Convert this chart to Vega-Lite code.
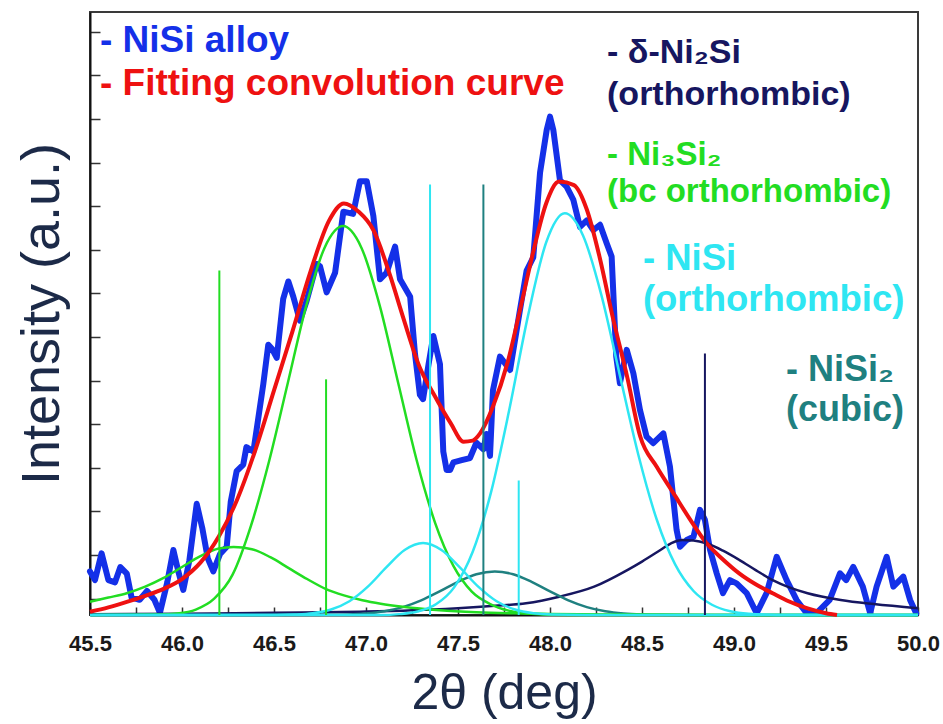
{
  "$schema": "https://vega.github.io/schema/vega-lite/v6.json",
  "autosize": "none",
  "width": 828,
  "height": 603,
  "padding": {"left": 90, "top": 12, "right": 25, "bottom": 109},
  "background": "white",
  "config": {
    "view": {"stroke": "#3a3a3a", "strokeWidth": 2},
    "axis": {"grid": false}
  },
  "datasets": {
    "blue": [
      {"x":45.5,"y":2.0},{"x":45.527,"y":1.6},{"x":45.563,"y":2.83},{"x":45.6,"y":1.6},{"x":45.636,"y":1.5},{"x":45.665,"y":2.2},{"x":45.7,"y":1.9},{"x":45.726,"y":0.8},{"x":45.77,"y":0.7},{"x":45.81,"y":1.1},{"x":45.85,"y":0.7},{"x":45.88,"y":0.1},{"x":45.92,"y":1.5},{"x":45.953,"y":2.98},{"x":45.98,"y":2.0},{"x":46.007,"y":1.15},{"x":46.04,"y":2.5},{"x":46.08,"y":5.1},{"x":46.11,"y":4.0},{"x":46.14,"y":2.6},{"x":46.17,"y":2.0},{"x":46.207,"y":2.8},{"x":46.243,"y":3.13},{"x":46.265,"y":5.2},{"x":46.297,"y":6.6},{"x":46.333,"y":6.9},{"x":46.35,"y":7.7},{"x":46.388,"y":7.5},{"x":46.442,"y":10.6},{"x":46.469,"y":12.4},{"x":46.49,"y":12.2},{"x":46.515,"y":11.8},{"x":46.55,"y":14.5},{"x":46.578,"y":15.3},{"x":46.605,"y":14.6},{"x":46.641,"y":13.5},{"x":46.677,"y":14.4},{"x":46.732,"y":16.1},{"x":46.75,"y":16.0},{"x":46.786,"y":14.8},{"x":46.832,"y":15.7},{"x":46.877,"y":18.5},{"x":46.93,"y":18.4},{"x":46.967,"y":19.9},{"x":47.004,"y":19.9},{"x":47.04,"y":18.3},{"x":47.076,"y":15.4},{"x":47.112,"y":15.7},{"x":47.158,"y":16.9},{"x":47.185,"y":15.4},{"x":47.24,"y":14.6},{"x":47.266,"y":12.0},{"x":47.293,"y":10.1},{"x":47.31,"y":9.9},{"x":47.34,"y":11.5},{"x":47.366,"y":12.8},{"x":47.402,"y":11.5},{"x":47.42,"y":7.5},{"x":47.438,"y":6.65},{"x":47.457,"y":6.65},{"x":47.475,"y":7.0},{"x":47.52,"y":7.1},{"x":47.565,"y":7.2},{"x":47.6,"y":7.9},{"x":47.638,"y":7.6},{"x":47.655,"y":8.3},{"x":47.674,"y":7.3},{"x":47.69,"y":10.3},{"x":47.728,"y":11.85},{"x":47.76,"y":11.5},{"x":47.783,"y":11.24},{"x":47.837,"y":14.0},{"x":47.873,"y":15.8},{"x":47.909,"y":16.4},{"x":47.946,"y":20.3},{"x":47.982,"y":22.25},{"x":48.0,"y":22.86},{"x":48.018,"y":22.25},{"x":48.054,"y":19.95},{"x":48.09,"y":19.65},{"x":48.127,"y":19.04},{"x":48.163,"y":17.8},{"x":48.2,"y":18.1},{"x":48.235,"y":17.66},{"x":48.272,"y":17.9},{"x":48.308,"y":17.05},{"x":48.335,"y":16.44},{"x":48.36,"y":11.85},{"x":48.38,"y":10.63},{"x":48.417,"y":12.16},{"x":48.453,"y":11.09},{"x":48.489,"y":9.4},{"x":48.525,"y":8.18},{"x":48.561,"y":7.88},{"x":48.616,"y":8.33},{"x":48.652,"y":6.8},{"x":48.688,"y":3.9},{"x":48.707,"y":3.13},{"x":48.743,"y":3.44},{"x":48.78,"y":3.59},{"x":48.815,"y":4.82},{"x":48.842,"y":4.36},{"x":48.87,"y":2.98},{"x":48.906,"y":1.91},{"x":48.94,"y":1.0},{"x":48.978,"y":1.6},{"x":49.014,"y":1.45},{"x":49.069,"y":1.0},{"x":49.123,"y":0.08},{"x":49.177,"y":1.0},{"x":49.232,"y":2.67},{"x":49.286,"y":1.6},{"x":49.34,"y":0.69},{"x":49.395,"y":0.08},{"x":49.45,"y":0.1},{"x":49.52,"y":0.69},{"x":49.576,"y":1.91},{"x":49.61,"y":1.6},{"x":49.648,"y":2.21},{"x":49.7,"y":1.3},{"x":49.74,"y":0.08},{"x":49.775,"y":1.3},{"x":49.83,"y":2.67},{"x":49.866,"y":1.3},{"x":49.92,"y":1.76},{"x":49.957,"y":0.69},{"x":49.99,"y":0.08}
    ],
    "fit": [
      {"x":45.5,"y":0.15},{"x":45.6,"y":0.35},{"x":45.7,"y":0.6},{"x":45.8,"y":0.88},{"x":45.9,"y":1.2},{"x":46.0,"y":1.65},{"x":46.1,"y":2.4},{"x":46.2,"y":3.6},{"x":46.3,"y":5.3},{"x":46.4,"y":7.6},{"x":46.5,"y":10.3},{"x":46.6,"y":13.0},{"x":46.7,"y":15.8},{"x":46.8,"y":18.1},{"x":46.88,"y":18.88},{"x":46.96,"y":18.5},{"x":47.04,"y":17.66},{"x":47.13,"y":15.6},{"x":47.2,"y":13.7},{"x":47.29,"y":11.4},{"x":47.37,"y":10.1},{"x":47.46,"y":8.8},{"x":47.53,"y":7.95},{"x":47.58,"y":8.0},{"x":47.62,"y":8.33},{"x":47.69,"y":9.56},{"x":47.77,"y":11.6},{"x":47.84,"y":14.1},{"x":47.91,"y":16.7},{"x":47.98,"y":18.9},{"x":48.05,"y":19.88},{"x":48.13,"y":19.72},{"x":48.2,"y":18.6},{"x":48.27,"y":16.4},{"x":48.34,"y":13.7},{"x":48.42,"y":10.9},{"x":48.49,"y":8.2},{"x":48.58,"y":6.8},{"x":48.67,"y":5.6},{"x":48.76,"y":4.4},{"x":48.85,"y":3.3},{"x":48.94,"y":2.55},{"x":49.03,"y":1.9},{"x":49.12,"y":1.4},{"x":49.21,"y":1.0},{"x":49.3,"y":0.62},{"x":49.4,"y":0.3},{"x":49.5,"y":0.08},{"x":49.56,"y":0.0}
    ],
    "comp": [
      {"phase":"Ni2Si","peak":"n","x":45.5,"y":0.03},{"phase":"Ni2Si","peak":"n","x":46.0,"y":0.06},{"phase":"Ni2Si","peak":"n","x":46.5,"y":0.1},{"phase":"Ni2Si","peak":"n","x":46.97,"y":0.15},{"phase":"Ni2Si","peak":"n","x":47.2,"y":0.2},{"phase":"Ni2Si","peak":"n","x":47.5,"y":0.31},{"phase":"Ni2Si","peak":"n","x":47.7,"y":0.42},{"phase":"Ni2Si","peak":"n","x":47.87,"y":0.54},{"phase":"Ni2Si","peak":"n","x":48.05,"y":0.84},{"phase":"Ni2Si","peak":"n","x":48.24,"y":1.3},{"phase":"Ni2Si","peak":"n","x":48.42,"y":2.06},{"phase":"Ni2Si","peak":"n","x":48.5,"y":2.45},{"phase":"Ni2Si","peak":"n","x":48.6,"y":2.98},{"phase":"Ni2Si","peak":"n","x":48.66,"y":3.3},{"phase":"Ni2Si","peak":"n","x":48.72,"y":3.44},{"phase":"Ni2Si","peak":"n","x":48.78,"y":3.42},{"phase":"Ni2Si","peak":"n","x":48.85,"y":3.29},{"phase":"Ni2Si","peak":"n","x":48.94,"y":2.95},{"phase":"Ni2Si","peak":"n","x":49.03,"y":2.52},{"phase":"Ni2Si","peak":"n","x":49.12,"y":2.05},{"phase":"Ni2Si","peak":"n","x":49.21,"y":1.6},{"phase":"Ni2Si","peak":"n","x":49.3,"y":1.27},{"phase":"Ni2Si","peak":"n","x":49.4,"y":1.0},{"phase":"Ni2Si","peak":"n","x":49.58,"y":0.69},{"phase":"Ni2Si","peak":"n","x":49.76,"y":0.5},{"phase":"Ni2Si","peak":"n","x":50.0,"y":0.31},

      {"phase":"NiSi2","peak":"t","x":45.5,"y":0},{"phase":"NiSi2","peak":"t","x":46.8,"y":0.01},{"phase":"NiSi2","peak":"t","x":46.9,"y":0.025},{"phase":"NiSi2","peak":"t","x":47.0,"y":0.07},{"phase":"NiSi2","peak":"t","x":47.1,"y":0.17},{"phase":"NiSi2","peak":"t","x":47.2,"y":0.36},{"phase":"NiSi2","peak":"t","x":47.3,"y":0.67},{"phase":"NiSi2","peak":"t","x":47.4,"y":1.08},{"phase":"NiSi2","peak":"t","x":47.5,"y":1.52},{"phase":"NiSi2","peak":"t","x":47.6,"y":1.87},{"phase":"NiSi2","peak":"t","x":47.7,"y":2.0},{"phase":"NiSi2","peak":"t","x":47.8,"y":1.87},{"phase":"NiSi2","peak":"t","x":47.9,"y":1.52},{"phase":"NiSi2","peak":"t","x":48.0,"y":1.08},{"phase":"NiSi2","peak":"t","x":48.1,"y":0.67},{"phase":"NiSi2","peak":"t","x":48.2,"y":0.36},{"phase":"NiSi2","peak":"t","x":48.3,"y":0.17},{"phase":"NiSi2","peak":"t","x":48.4,"y":0.07},{"phase":"NiSi2","peak":"t","x":48.5,"y":0.025},{"phase":"NiSi2","peak":"t","x":48.6,"y":0.01},{"phase":"NiSi2","peak":"t","x":49.0,"y":0},{"phase":"NiSi2","peak":"t","x":50.0,"y":0},

      {"phase":"Ni3Si2","peak":"g2","x":45.5,"y":0.61},{"phase":"Ni3Si2","peak":"g2","x":45.6,"y":0.8},{"phase":"Ni3Si2","peak":"g2","x":45.7,"y":1.0},{"phase":"Ni3Si2","peak":"g2","x":45.8,"y":1.3},{"phase":"Ni3Si2","peak":"g2","x":45.9,"y":1.7},{"phase":"Ni3Si2","peak":"g2","x":46.0,"y":2.2},{"phase":"Ni3Si2","peak":"g2","x":46.1,"y":2.7},{"phase":"Ni3Si2","peak":"g2","x":46.2,"y":3.05},{"phase":"Ni3Si2","peak":"g2","x":46.28,"y":3.12},{"phase":"Ni3Si2","peak":"g2","x":46.38,"y":3.02},{"phase":"Ni3Si2","peak":"g2","x":46.48,"y":2.65},{"phase":"Ni3Si2","peak":"g2","x":46.58,"y":2.15},{"phase":"Ni3Si2","peak":"g2","x":46.68,"y":1.65},{"phase":"Ni3Si2","peak":"g2","x":46.78,"y":1.2},{"phase":"Ni3Si2","peak":"g2","x":46.88,"y":0.9},{"phase":"Ni3Si2","peak":"g2","x":46.98,"y":0.68},{"phase":"Ni3Si2","peak":"g2","x":47.08,"y":0.52},{"phase":"Ni3Si2","peak":"g2","x":47.2,"y":0.38},{"phase":"Ni3Si2","peak":"g2","x":47.4,"y":0.22},{"phase":"Ni3Si2","peak":"g2","x":47.6,"y":0.13},{"phase":"Ni3Si2","peak":"g2","x":47.8,"y":0.08},{"phase":"Ni3Si2","peak":"g2","x":48.0,"y":0.05},{"phase":"Ni3Si2","peak":"g2","x":48.5,"y":0.02},{"phase":"Ni3Si2","peak":"g2","x":49.0,"y":0},{"phase":"Ni3Si2","peak":"g2","x":50.0,"y":0},

      {"phase":"Ni3Si2","peak":"g1","x":45.5,"y":0},{"phase":"Ni3Si2","peak":"g1","x":45.875,"y":0.02},{"phase":"Ni3Si2","peak":"g1","x":45.975,"y":0.07},{"phase":"Ni3Si2","peak":"g1","x":46.075,"y":0.25},{"phase":"Ni3Si2","peak":"g1","x":46.175,"y":0.75},{"phase":"Ni3Si2","peak":"g1","x":46.275,"y":1.85},{"phase":"Ni3Si2","peak":"g1","x":46.375,"y":4.1},{"phase":"Ni3Si2","peak":"g1","x":46.475,"y":7.11},{"phase":"Ni3Si2","peak":"g1","x":46.575,"y":10.64},{"phase":"Ni3Si2","peak":"g1","x":46.675,"y":14.18},{"phase":"Ni3Si2","peak":"g1","x":46.775,"y":16.85},{"phase":"Ni3Si2","peak":"g1","x":46.875,"y":17.84},{"phase":"Ni3Si2","peak":"g1","x":46.975,"y":16.85},{"phase":"Ni3Si2","peak":"g1","x":47.075,"y":14.18},{"phase":"Ni3Si2","peak":"g1","x":47.175,"y":10.64},{"phase":"Ni3Si2","peak":"g1","x":47.275,"y":7.11},{"phase":"Ni3Si2","peak":"g1","x":47.375,"y":4.24},{"phase":"Ni3Si2","peak":"g1","x":47.475,"y":2.25},{"phase":"Ni3Si2","peak":"g1","x":47.575,"y":1.07},{"phase":"Ni3Si2","peak":"g1","x":47.675,"y":0.5},{"phase":"Ni3Si2","peak":"g1","x":47.775,"y":0.2},{"phase":"Ni3Si2","peak":"g1","x":47.875,"y":0.07},{"phase":"Ni3Si2","peak":"g1","x":48.1,"y":0},{"phase":"Ni3Si2","peak":"g1","x":50.0,"y":0},

      {"phase":"NiSi","peak":"c2","x":45.5,"y":0},{"phase":"NiSi","peak":"c2","x":46.51,"y":0},{"phase":"NiSi","peak":"c2","x":46.61,"y":0.02},{"phase":"NiSi","peak":"c2","x":46.71,"y":0.08},{"phase":"NiSi","peak":"c2","x":46.81,"y":0.25},{"phase":"NiSi","peak":"c2","x":46.91,"y":0.63},{"phase":"NiSi","peak":"c2","x":47.01,"y":1.3},{"phase":"NiSi","peak":"c2","x":47.11,"y":2.18},{"phase":"NiSi","peak":"c2","x":47.21,"y":2.98},{"phase":"NiSi","peak":"c2","x":47.31,"y":3.3},{"phase":"NiSi","peak":"c2","x":47.41,"y":2.98},{"phase":"NiSi","peak":"c2","x":47.51,"y":2.18},{"phase":"NiSi","peak":"c2","x":47.61,"y":1.3},{"phase":"NiSi","peak":"c2","x":47.71,"y":0.63},{"phase":"NiSi","peak":"c2","x":47.81,"y":0.25},{"phase":"NiSi","peak":"c2","x":47.91,"y":0.08},{"phase":"NiSi","peak":"c2","x":48.01,"y":0.02},{"phase":"NiSi","peak":"c2","x":48.2,"y":0},{"phase":"NiSi","peak":"c2","x":50.0,"y":0},

      {"phase":"NiSi","peak":"c1","x":45.5,"y":0},{"phase":"NiSi","peak":"c1","x":47.08,"y":0},{"phase":"NiSi","peak":"c1","x":47.18,"y":0.04},{"phase":"NiSi","peak":"c1","x":47.28,"y":0.16},{"phase":"NiSi","peak":"c1","x":47.38,"y":0.49},{"phase":"NiSi","peak":"c1","x":47.48,"y":1.28},{"phase":"NiSi","peak":"c1","x":47.58,"y":2.9},{"phase":"NiSi","peak":"c1","x":47.68,"y":5.65},{"phase":"NiSi","peak":"c1","x":47.78,"y":9.47},{"phase":"NiSi","peak":"c1","x":47.88,"y":13.71},{"phase":"NiSi","peak":"c1","x":47.98,"y":17.11},{"phase":"NiSi","peak":"c1","x":48.08,"y":18.43},{"phase":"NiSi","peak":"c1","x":48.18,"y":17.4},{"phase":"NiSi","peak":"c1","x":48.28,"y":14.65},{"phase":"NiSi","peak":"c1","x":48.38,"y":10.98},{"phase":"NiSi","peak":"c1","x":48.48,"y":7.35},{"phase":"NiSi","peak":"c1","x":48.58,"y":4.38},{"phase":"NiSi","peak":"c1","x":48.68,"y":2.32},{"phase":"NiSi","peak":"c1","x":48.78,"y":1.1},{"phase":"NiSi","peak":"c1","x":48.88,"y":0.47},{"phase":"NiSi","peak":"c1","x":48.98,"y":0.17},{"phase":"NiSi","peak":"c1","x":49.08,"y":0.06},{"phase":"NiSi","peak":"c1","x":49.3,"y":0},{"phase":"NiSi","peak":"c1","x":50.0,"y":0}
    ],
    "sticks": [
      {"phase":"Ni3Si2","x":46.203,"top":15.8},
      {"phase":"Ni3Si2","x":46.783,"top":10.81},
      {"phase":"NiSi","x":47.348,"top":19.75},
      {"phase":"NiSi","x":47.83,"top":6.17},
      {"phase":"NiSi2","x":47.638,"top":19.75},
      {"phase":"Ni2Si","x":48.842,"top":12.0}
    ],
    "labels": [
      {"phase":"alloy","text":"- NiSi alloy","x":45.554,"y":26.33},
      {"phase":"fit","text":"- Fitting convolution curve","x":45.554,"y":24.35},
      {"phase":"Ni2Si","text":"- δ-Ni₂Si","x":48.31,"y":25.78},
      {"phase":"Ni2Si","text":"(orthorhombic)","x":48.31,"y":23.85},
      {"phase":"Ni3Si2","text":"- Ni₃Si₂","x":48.31,"y":21.1},
      {"phase":"Ni3Si2","text":"(bc orthorhombic)","x":48.31,"y":19.4},
      {"phase":"NiSi","text":"- NiSi","x":48.505,"y":16.31},
      {"phase":"NiSi","text":"(orthorhombic)","x":48.505,"y":14.45},
      {"phase":"NiSi2","text":"- NiSi₂","x":49.283,"y":11.24},
      {"phase":"NiSi2","text":"(cubic)","x":49.283,"y":9.4}
    ]
  },
  "layer": [
    {
      "data": {"name": "blue"},
      "mark": {"type": "line", "color": "#1430e8", "strokeWidth": 6, "strokeJoin": "round", "strokeCap": "round"},
      "encoding": {
        "x": {
          "field": "x", "type": "quantitative",
          "scale": {"domain": [45.5, 50.0], "nice": false, "zero": false},
          "axis": {
            "title": "2θ (deg)",
            "titleFont": "Liberation Sans", "titleFontSize": 50, "titleFontWeight": "normal", "titleColor": "#1c2a48", "titlePadding": 14,
            "values": [45.5,45.75,46.0,46.25,46.5,46.75,47.0,47.25,47.5,47.75,48.0,48.25,48.5,48.75,49.0,49.25,49.5,49.75,50.0],
            "labelExpr": "(datum.value * 4) % 2 == 0 ? format(datum.value, '.1f') : ''",
            "labelFont": "Liberation Sans", "labelFontSize": 22, "labelFontWeight": "bold", "labelColor": "#1a1a1a",
            "labelPadding": 26, "labelFlush": false, "labelOverlap": false,
            "tickSize": -8, "tickColor": "#333333", "tickWidth": 1.5,
            "domainColor": "#111111", "domainWidth": 2
          }
        },
        "y": {
          "field": "y", "type": "quantitative",
          "scale": {"domain": [0, 27.66], "nice": false, "zero": false},
          "axis": {
            "title": "Intensity (a.u.)",
            "titleFont": "Liberation Sans", "titleFontSize": 54, "titleFontWeight": "normal", "titleColor": "#1c2a48", "titlePadding": 20,
            "values": [0.75,1.75,2.75,3.75,4.75,5.75,6.75,7.75,8.75,9.75,10.75,11.75,12.75,13.75,14.75,15.75,16.75,17.75,18.75,19.75,20.75,21.75,22.75,23.75,24.75,25.75,26.75],
            "labels": false,
            "tickSize": -10, "tickColor": "#333333", "tickWidth": 1.5,
            "domainColor": "#111111", "domainWidth": 2
          }
        }
      }
    },
    {
      "data": {"name": "comp"},
      "mark": {"type": "line", "strokeWidth": 2.5, "interpolate": "monotone"},
      "encoding": {
        "x": {"field": "x", "type": "quantitative"},
        "y": {"field": "y", "type": "quantitative"},
        "detail": {"field": "peak", "type": "nominal"},
        "color": {
          "field": "phase", "type": "nominal",
          "scale": {"domain": ["alloy","fit","Ni2Si","Ni3Si2","NiSi","NiSi2"], "range": ["#1430e8","#ee1111","#161660","#22dd22","#2ee6f2","#1f8080"]},
          "legend": null
        }
      }
    },
    {
      "data": {"name": "fit"},
      "mark": {"type": "line", "color": "#ee1111", "strokeWidth": 4, "interpolate": "monotone"},
      "encoding": {
        "x": {"field": "x", "type": "quantitative"},
        "y": {"field": "y", "type": "quantitative"}
      }
    },
    {
      "data": {"name": "sticks"},
      "mark": {"type": "rule", "strokeWidth": 2},
      "encoding": {
        "x": {"field": "x", "type": "quantitative"},
        "y": {"field": "top", "type": "quantitative"},
        "y2": {"datum": 0},
        "color": {"field": "phase", "type": "nominal", "legend": null}
      }
    },
    {
      "data": {"name": "labels"},
      "mark": {"type": "text", "font": "Liberation Sans", "fontWeight": "bold", "align": "left", "baseline": "middle"},
      "encoding": {
        "x": {"field": "x", "type": "quantitative"},
        "y": {"field": "y", "type": "quantitative"},
        "text": {"field": "text"},
        "color": {"field": "phase", "type": "nominal", "legend": null},
        "size": {
          "field": "phase", "type": "nominal",
          "scale": {"type": "ordinal", "domain": ["alloy","fit","Ni2Si","Ni3Si2","NiSi","NiSi2"], "range": [37,37,34,33,36.5,36]},
          "legend": null
        }
      }
    }
  ]
}
